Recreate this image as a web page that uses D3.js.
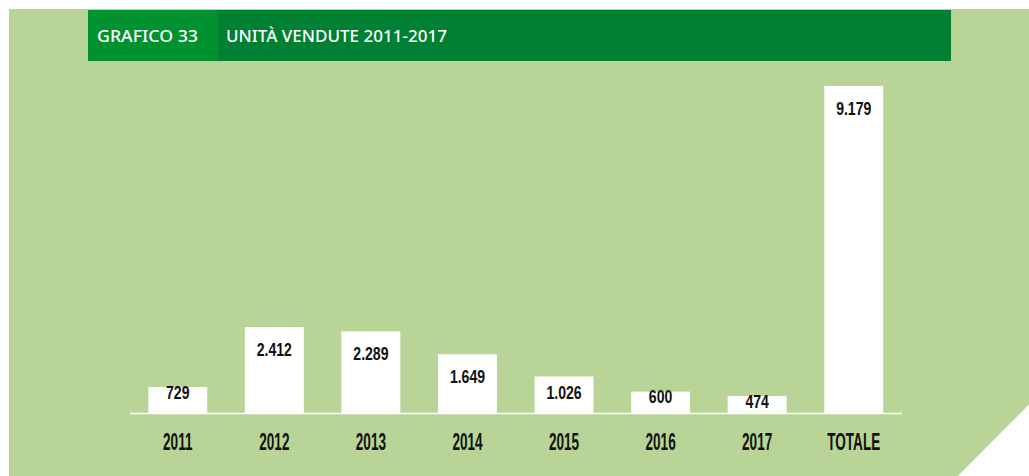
<!DOCTYPE html>
<html>
<head>
<meta charset="utf-8">
<script src="https://cdn.jsdelivr.net/npm/d3@7"></script>
<style>
  html, body { margin: 0; padding: 0; background: #ffffff; }
  svg { display: block; }
  .cond { font-family: "Liberation Sans", Arial, sans-serif; font-weight: bold; fill: #111; }
  .head { font-family: "Noto Sans", "Open Sans", sans-serif; font-weight: 500; fill: #ffffff; }
</style>
</head>
<body>
<script>
// Unità vendute per anno, più il totale del periodo
const categories = ["2011", "2012", "2013", "2014", "2015", "2016", "2017", "TOTALE"];
const values = [729, 2412, 2289, 1649, 1026, 600, 474, 9179];
const valueLabels = ["729", "2.412", "2.289", "1.649", "1.026", "600", "474", "9.179"];
const chartNumber = "GRAFICO 33";
const chartTitle = "UNITÀ VENDUTE 2011-2017";

const W = 1029, H = 476;
const svg = d3.select("body").append("svg").attr("width", W).attr("height", H);

// sfondo verde chiaro con margine bianco in alto e a sinistra
svg.append("rect").attr("x", 9).attr("y", 9).attr("width", W - 9).attr("height", H - 9).attr("fill", "#b8d597");

// angolo bianco in basso a destra
svg.append("path").attr("d", `M958,${H} L${W},404.5 L${W},${H} Z`).attr("fill", "#ffffff");

// intestazione
svg.append("rect").attr("x", 88).attr("y", 10).attr("width", 863).attr("height", 51).attr("fill", "#008033");
svg.append("rect").attr("x", 88).attr("y", 10).attr("width", 130).attr("height", 51).attr("fill", "#009130");
svg.append("text").attr("class", "head").attr("x", 97).attr("y", 41.5)
  .attr("font-size", 15.5).attr("textLength", 101).attr("lengthAdjust", "spacingAndGlyphs").text(chartNumber);
svg.append("text").attr("class", "head").attr("x", 226).attr("y", 41.5)
  .attr("font-size", 15.5).attr("textLength", 221).attr("lengthAdjust", "spacingAndGlyphs").text(chartTitle);

// scale
const x = d3.scaleBand().domain(categories).range([129.5, 902]).paddingInner(0.39).paddingOuter(0.195);
const y = d3.scaleLinear().domain([0, 9179]).range([413, 86]);

const data = categories.map((c, i) => ({ cat: c, v: values[i], label: valueLabels[i] }));

// barre
svg.append("g").selectAll("rect").data(data).join("rect")
  .attr("x", d => x(d.cat))
  .attr("y", d => y(d.v))
  .attr("width", x.bandwidth())
  .attr("height", d => y(0) - y(d.v))
  .attr("fill", "#ffffff");

// linea di base
svg.append("line").attr("x1", 130).attr("x2", 902).attr("y1", 413.5).attr("y2", 413.5)
  .attr("stroke", "#ffffff").attr("stroke-width", 1.6);

// etichette dei valori, dentro la barra vicino alla sommità
const capV = 13.5;
svg.append("g").selectAll("text").data(data).join("text")
  .attr("class", "cond")
  .attr("font-size", 19)
  .attr("text-anchor", "middle")
  .attr("transform", d => {
    const top = y(d.v), h = y(0) - top;
    const off = Math.min(15, Math.max(-2, h - 28));
    return `translate(${x(d.cat) + x.bandwidth() / 2},${top + off + capV}) scale(0.74,1)`;
  })
  .text(d => d.label);

// etichette delle categorie
svg.append("g").selectAll("text").data(data).join("text")
  .attr("class", "cond")
  .attr("font-size", 23)
  .attr("text-anchor", "middle")
  .attr("transform", d => `translate(${x(d.cat) + x.bandwidth() / 2},450) scale(0.59,1)`)
  .text(d => d.cat);
</script>
</body>
</html>
